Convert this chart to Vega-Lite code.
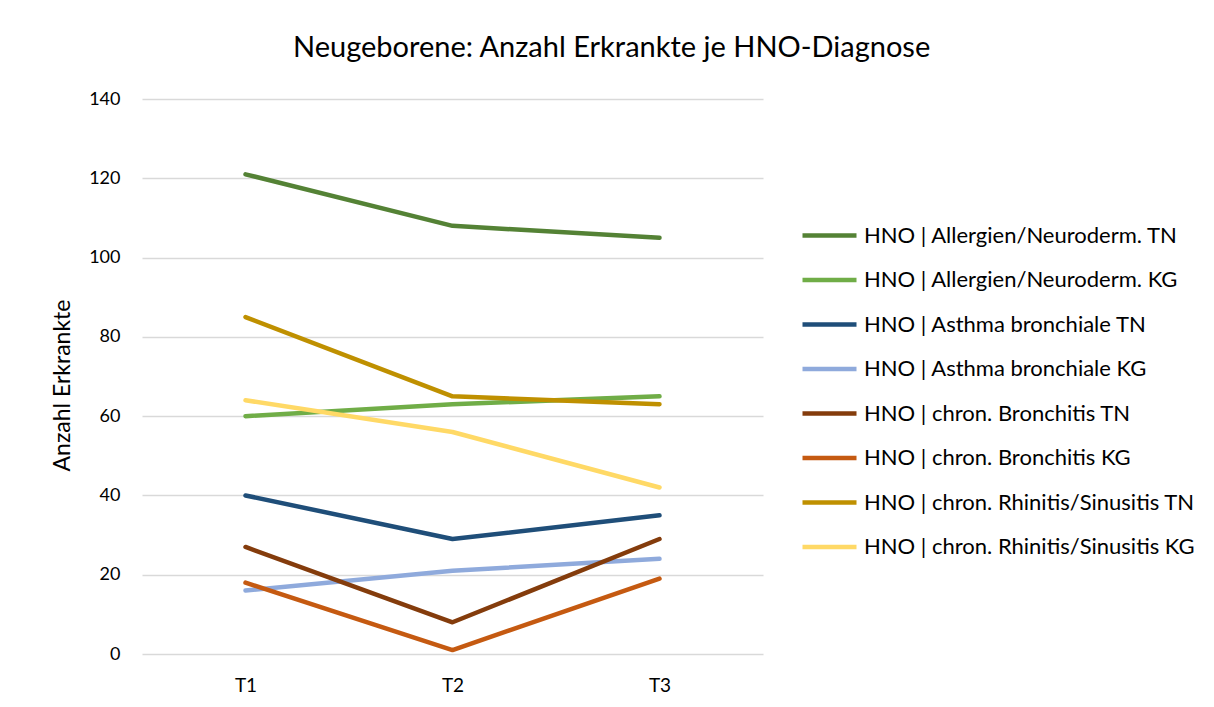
{
  "$schema": "https://vega.github.io/schema/vega-lite/v6.json",
  "width": 621,
  "height": 555,
  "autosize": {"type": "none"},
  "padding": {"left": 142, "top": 99, "right": 451, "bottom": 53},
  "background": "white",
  "title": {
    "text": "Neugeborene: Anzahl Erkrankte je HNO-Diagnose",
    "font": "Lato",
    "fontSize": 29,
    "fontWeight": "normal",
    "color": "#000000",
    "anchor": "start",
    "frame": "group",
    "dx": 151,
    "offset": -2,
    "baseline": "bottom"
  },
  "data": {
    "values": [
      {"Zeit": "T1", "Serie": "HNO | Allergien/Neuroderm. TN", "Wert": 121},
      {"Zeit": "T2", "Serie": "HNO | Allergien/Neuroderm. TN", "Wert": 108},
      {"Zeit": "T3", "Serie": "HNO | Allergien/Neuroderm. TN", "Wert": 105},
      {"Zeit": "T1", "Serie": "HNO | Allergien/Neuroderm. KG", "Wert": 60},
      {"Zeit": "T2", "Serie": "HNO | Allergien/Neuroderm. KG", "Wert": 63},
      {"Zeit": "T3", "Serie": "HNO | Allergien/Neuroderm. KG", "Wert": 65},
      {"Zeit": "T1", "Serie": "HNO | Asthma bronchiale TN", "Wert": 40},
      {"Zeit": "T2", "Serie": "HNO | Asthma bronchiale TN", "Wert": 29},
      {"Zeit": "T3", "Serie": "HNO | Asthma bronchiale TN", "Wert": 35},
      {"Zeit": "T1", "Serie": "HNO | Asthma bronchiale KG", "Wert": 16},
      {"Zeit": "T2", "Serie": "HNO | Asthma bronchiale KG", "Wert": 21},
      {"Zeit": "T3", "Serie": "HNO | Asthma bronchiale KG", "Wert": 24},
      {"Zeit": "T1", "Serie": "HNO | chron. Bronchitis TN", "Wert": 27},
      {"Zeit": "T2", "Serie": "HNO | chron. Bronchitis TN", "Wert": 8},
      {"Zeit": "T3", "Serie": "HNO | chron. Bronchitis TN", "Wert": 29},
      {"Zeit": "T1", "Serie": "HNO | chron. Bronchitis KG", "Wert": 18},
      {"Zeit": "T2", "Serie": "HNO | chron. Bronchitis KG", "Wert": 1},
      {"Zeit": "T3", "Serie": "HNO | chron. Bronchitis KG", "Wert": 19},
      {"Zeit": "T1", "Serie": "HNO | chron. Rhinitis/Sinusitis TN", "Wert": 85},
      {"Zeit": "T2", "Serie": "HNO | chron. Rhinitis/Sinusitis TN", "Wert": 65},
      {"Zeit": "T3", "Serie": "HNO | chron. Rhinitis/Sinusitis TN", "Wert": 63},
      {"Zeit": "T1", "Serie": "HNO | chron. Rhinitis/Sinusitis KG", "Wert": 64},
      {"Zeit": "T2", "Serie": "HNO | chron. Rhinitis/Sinusitis KG", "Wert": 56},
      {"Zeit": "T3", "Serie": "HNO | chron. Rhinitis/Sinusitis KG", "Wert": 42}
    ]
  },
  "mark": {"type": "line", "strokeWidth": 4.5, "strokeCap": "round", "strokeJoin": "round"},
  "encoding": {
    "x": {
      "field": "Zeit",
      "type": "ordinal",
      "scale": {"type": "point", "padding": 0.5},
      "axis": {
        "title": null,
        "labelAngle": 0,
        "labelFont": "Lato",
        "labelFontSize": 19,
        "labelColor": "#000000",
        "labelPadding": 22,
        "ticks": false,
        "domain": false,
        "grid": false
      }
    },
    "y": {
      "field": "Wert",
      "type": "quantitative",
      "scale": {"domain": [0, 140], "nice": false},
      "axis": {
        "title": "Anzahl Erkrankte",
        "titleFont": "Lato",
        "titleFontSize": 23,
        "titleFontWeight": "normal",
        "titleColor": "#000000",
        "titlePadding": 14,
        "titleY": 286,
        "values": [0, 20, 40, 60, 80, 100, 120, 140],
        "labelFont": "Lato",
        "labelFontSize": 18,
        "labelColor": "#000000",
        "labelPadding": 22,
        "ticks": false,
        "domain": false,
        "grid": true,
        "gridColor": "#d9d9d9",
        "gridWidth": 1.3
      }
    },
    "color": {
      "field": "Serie",
      "type": "nominal",
      "scale": {
        "domain": [
          "HNO | Allergien/Neuroderm. TN",
          "HNO | Allergien/Neuroderm. KG",
          "HNO | Asthma bronchiale TN",
          "HNO | Asthma bronchiale KG",
          "HNO | chron. Bronchitis TN",
          "HNO | chron. Bronchitis KG",
          "HNO | chron. Rhinitis/Sinusitis TN",
          "HNO | chron. Rhinitis/Sinusitis KG"
        ],
        "range": ["#548235", "#70AD47", "#1F4E79", "#8FAADC", "#843C0C", "#C55A11", "#BF9000", "#FFD966"]
      },
      "legend": {
        "title": null,
        "orient": "none",
        "legendX": 658,
        "legendY": 107,
        "symbolType": "stroke",
        "symbolSize": 2916,
        "symbolStrokeWidth": 4.5,
        "labelFont": "Lato",
        "labelFontSize": 22,
        "labelColor": "#000000",
        "labelOffset": 5,
        "rowPadding": 3.5,
        "labelLimit": 400
      }
    }
  },
  "config": {
    "view": {"stroke": null}
  }
}
